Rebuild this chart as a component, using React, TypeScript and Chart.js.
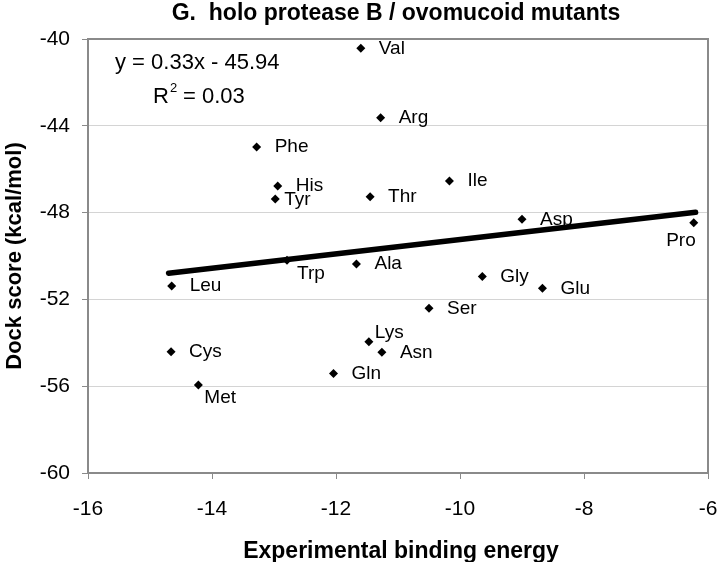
import React, { useEffect, useRef } from "react";
import { Chart, registerables } from "chart.js";

Chart.register(...registerables);

// ---- data ----
const residues = ["Val", "Arg", "Phe", "His", "Tyr", "Thr", "Ile", "Asp", "Pro", "Gly", "Glu", "Ser", "Asn", "Lys", "Gln", "Ala", "Trp", "Leu", "Cys", "Met"];
const bindingEnergy = [-11.6, -11.28, -13.28, -12.94, -12.98, -11.45, -10.17, -9.0, -6.23, -9.64, -8.67, -10.5, -11.26, -11.47, -12.04, -11.67, -12.79, -14.65, -14.66, -14.22];
const dockScore = [-40.43, -43.63, -44.98, -46.77, -47.37, -47.27, -46.54, -48.31, -48.47, -50.95, -51.49, -52.41, -54.44, -53.95, -55.41, -50.37, -50.2, -51.38, -54.41, -55.94];
const xTicks = [-16, -14, -12, -10, -8, -6];
const yTicks = [-60, -56, -52, -48, -44, -40];
const trendSlope = 0.33;
const trendIntercept = -45.94;
const trendXRange = [-14.7, -6.2];
const rSquared = 0.03;

const titleText = "G.  holo protease B / ovomucoid mutants";
const xTitle = "Experimental binding energy";
const yTitle = "Dock score (kcal/mol)";

// label placement (style only)
const labelPlacement: Record<string, { dx: number; dy: number; align: CanvasTextAlign }> = {
  Tyr: { dx: 9, dy: 1, align: "left" },
  Pro: { dx: 2, dy: 18, align: "right" },
  Lys: { dx: 6, dy: -9, align: "left" },
  Trp: { dx: 10, dy: 13, align: "left" },
  Met: { dx: 6, dy: 13, align: "left" },
};

const FONT = "'Liberation Sans', Arial, Helvetica, sans-serif";

const overlayPlugin = {
  id: "overlay",
  afterDatasetsDraw(chart: any) {
    const { ctx, chartArea, scales } = chart;
    const xs = scales.x;
    const ys = scales.y;
    ctx.save();
    // frame
    ctx.strokeStyle = "#8a8a8a";
    ctx.lineWidth = 2;
    ctx.strokeRect(chartArea.left, chartArea.top, chartArea.right - chartArea.left, chartArea.bottom - chartArea.top);

    // point labels
    ctx.fillStyle = "#000";
    ctx.font = `19px ${FONT}`;
    ctx.textBaseline = "middle";
    residues.forEach((name, i) => {
      const px = xs.getPixelForValue(bindingEnergy[i]);
      const py = ys.getPixelForValue(dockScore[i]);
      const p = labelPlacement[name] || { dx: 18, dy: 0, align: "left" as CanvasTextAlign };
      ctx.textAlign = p.align;
      ctx.fillText(name, px + p.dx, py + p.dy);
    });

    // equation
    ctx.textAlign = "left";
    ctx.font = `22px ${FONT}`;
    const sign = trendIntercept < 0 ? "-" : "+";
    ctx.fillText(`y = ${trendSlope.toFixed(2)}x ${sign} ${Math.abs(trendIntercept).toFixed(2)}`, 115, 63);
    const rx = 153;
    ctx.fillText("R", rx, 97);
    const rw = ctx.measureText("R").width;
    ctx.font = `13px ${FONT}`;
    ctx.fillText("2", rx + rw + 1, 88);
    ctx.font = `22px ${FONT}`;
    ctx.fillText(` = ${rSquared.toFixed(2)}`, rx + rw + 8, 97);

    // title
    ctx.font = `bold 23px ${FONT}`;
    ctx.textAlign = "center";
    ctx.fillText(titleText, 396, 14);

    // x axis title
    ctx.textBaseline = "alphabetic";
    ctx.fillText(xTitle, 401, 558);
    ctx.restore();
  },
};

export default function App() {
  const canvasRef = useRef<HTMLCanvasElement | null>(null);

  useEffect(() => {
    const canvas = canvasRef.current;
    if (!canvas) return;
    const points = bindingEnergy.map((x, i) => ({ x, y: dockScore[i] }));
    const trend = trendXRange.map((x) => ({ x, y: trendSlope * x + trendIntercept }));
    const chart = new Chart(canvas, {
      type: "scatter",
      data: {
        datasets: [
          {
            label: "trend",
            data: trend,
            showLine: true,
            borderColor: "#000",
            borderWidth: 5.5,
            pointRadius: 0,
            borderCapStyle: "round",
            order: 0,
          } as any,
          {
            label: "mutants",
            data: points,
            pointStyle: "rectRot",
            pointRadius: 4.5,
            pointBackgroundColor: "#000",
            pointBorderColor: "#000",
            pointBorderWidth: 0,
            order: 1,
          } as any,
        ],
      },
      options: {
        responsive: false,
        animation: false,
        devicePixelRatio: 1,
        layout: { padding: { left: 0, right: 12, top: 39, bottom: 0 } },
        plugins: { legend: { display: false }, title: { display: false }, tooltip: { enabled: false } },
        scales: {
          x: {
            type: "linear",
            min: -16,
            max: -6,
            afterBuildTicks: (s: any) => {
              s.ticks = xTicks.map((v) => ({ value: v }));
            },
            afterFit: (s: any) => {
              s.height = 89;
              s.paddingLeft = 0;
              s.paddingRight = 0;
            },
            grid: { drawOnChartArea: false, drawTicks: true, tickLength: 6, tickColor: "#8a8a8a", color: "#8a8a8a" },
            border: { display: false },
            ticks: { color: "#000", font: { family: FONT, size: 21 }, padding: 18, maxRotation: 0, autoSkip: false },
            title: { display: false },
          },
          y: {
            type: "linear",
            min: -60,
            max: -40,
            afterBuildTicks: (s: any) => {
              s.ticks = yTicks.map((v) => ({ value: v }));
            },
            afterFit: (s: any) => {
              s.width = 88;
              s.paddingTop = 0;
              s.paddingBottom = 0;
            },
            grid: { drawOnChartArea: true, drawTicks: true, tickLength: 6, color: "#d4d4d4", tickColor: "#8a8a8a", lineWidth: 1 },
            border: { display: false },
            ticks: { color: "#000", font: { family: FONT, size: 21 }, padding: 12, autoSkip: false },
            title: { display: true, text: yTitle, color: "#000", font: { family: FONT, size: 22, weight: "bold" }, padding: { top: 2, bottom: 0 } },
          },
        },
      } as any,
      plugins: [overlayPlugin],
    });
    return () => chart.destroy();
  }, []);

  return (
    <div style={{ position: "absolute", left: 0, top: 0, width: 720, height: 562, background: "#fff" }}>
      <canvas ref={canvasRef} width={720} height={562} style={{ display: "block", width: 720, height: 562 }} />
    </div>
  );
}
